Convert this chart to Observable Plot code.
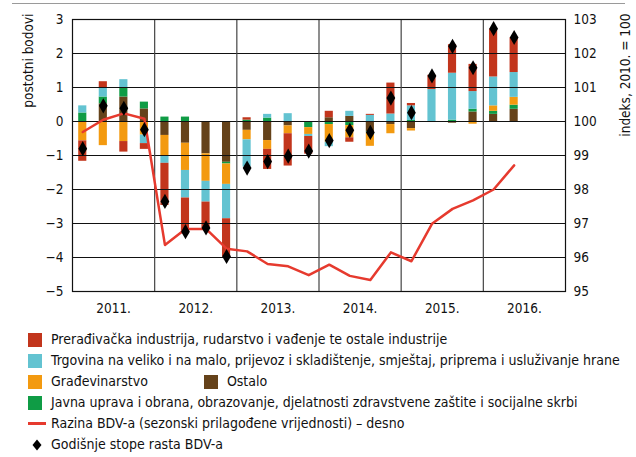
<!DOCTYPE html>
<html>
<head>
<meta charset="utf-8">
<script src="https://cdn.jsdelivr.net/npm/d3@7"></script>
<script src="https://cdn.jsdelivr.net/npm/@observablehq/plot@0.6"></script>
<style>
  html, body { margin: 0; padding: 0; background: #fff; }
  body { width: 636px; height: 457px; position: relative; overflow: hidden;
         font-family: "Liberation Sans Narrow", "DejaVu Sans Condensed", "Arial Narrow", sans-serif; }
  #rule { position: absolute; left: 12px; top: 3px; width: 613px; height: 0; border-top: 1.5px solid #9a9a9a; }
  #chart { position: absolute; left: 0; top: 0; }
  #legend { position: absolute; left: 28px; top: 329px; font-size: 14px; color: #111; line-height: 21px; }
  .row { display: flex; align-items: center; height: 21px; white-space: nowrap; }
  .sw { width: 14px; height: 14px; margin-right: 9px; flex: none; }
  .ln { width: 18px; height: 2.5px; background: #e63a2e; margin-right: 5px; flex: none; }
  .dm { width: 18px; margin-right: 5px; flex: none; display: flex; justify-content: center; }
</style>
</head>
<body>
<div id="rule"></div>
<div id="chart"></div>
<div id="legend"></div>
<script>
// Quarters 2011 Q1 – 2016 Q2
const quarters = ["2011Q1","2011Q2","2011Q3","2011Q4","2012Q1","2012Q2","2012Q3","2012Q4",
  "2013Q1","2013Q2","2013Q3","2013Q4","2014Q1","2014Q2","2014Q3","2014Q4",
  "2015Q1","2015Q2","2015Q3","2015Q4","2016Q1","2016Q2"];
const yearLabels = ["2011.","2012.","2013.","2014.","2015.","2016."];

// contributions (postotni bodovi), stacking order from zero outward
const ostalo        = [0, 0.52, 0.72, 0.37, -0.41, -0.64, -0.95, -1.20, -0.26, -0.56, -0.13, -0.03, 0.11, 0.15, -0.31, -0.09, -0.21, 0, -0.05, 0.28, 0.21, 0.36];
const javnaUprava   = [0.25, 0.20, 0.27, 0.20, 0.13, 0.13, 0, -0.05, 0.04, 0.10, 0, -0.15, -0.09, -0.12, -0.02, 0, 0.03, 0, 0.04, 0.08, 0.09, 0.12];
const gradjevinarstvo = [-0.57, -0.71, -0.59, -0.40, -0.62, -0.80, -0.81, -0.60, -0.28, -0.26, -0.23, -0.20, -0.52, -0.36, -0.40, -0.27, -0.07, -0.03, 0, -0.08, 0.16, 0.23];
const trgovina      = [0.21, 0.27, 0.24, -0.25, -0.20, -0.81, -0.61, -1.01, -0.80, 0.11, 0.23, -0.06, -0.13, 0.15, 0.18, 0.22, 0.43, 0.94, 1.38, 0.52, 0.85, 0.73];
const industrija    = [-0.60, 0.18, -0.31, -0.17, -1.24, -1.05, -0.79, -1.13, 0.07, -0.59, -0.95, -0.52, 0.19, -0.13, 0.03, 0.91, 0.07, 0.42, 0.84, 0.80, 1.41, 1.02];

// BDV level index (2010 = 100), right axis
const razinaBDV = [99.69, 100.05, 100.24, 100.08, 96.37, 96.84, 96.84, 96.26, 96.18, 95.81, 95.74, 95.48,
  95.79, 95.46, 95.34, 96.15, 95.89, 96.99, 97.43, 97.68, 98.0, 98.71];
// annual growth rates of BDV
const stopeRasta = [-0.80, 0.46, 0.39, -0.24, -2.35, -3.24, -3.13, -3.97, -1.37, -1.18, -1.02, -0.87,
  -0.56, -0.26, -0.32, 0.69, 0.26, 1.34, 2.21, 1.58, 2.73, 2.47];

const seriesNames = [
  "Prerađivačka industrija, rudarstvo i vađenje te ostale industrije",
  "Trgovina na veliko i na malo, prijevoz i skladištenje, smještaj, priprema i usluživanje hrane",
  "Građevinarstvo",
  "Ostalo",
  "Javna uprava i obrana, obrazovanje, djelatnosti zdravstvene zaštite i socijalne skrbi"
];
const seriesColors = ["#c2351c", "#63c3d1", "#f39a10", "#65421a", "#0f9c45"];
const stackOrder = [
  [seriesNames[3], ostalo],
  [seriesNames[4], javnaUprava],
  [seriesNames[2], gradjevinarstvo],
  [seriesNames[1], trgovina],
  [seriesNames[0], industrija]
];

const parseQ = s => ({year: +s.slice(0, 4), q: +s.slice(5)});
const bars = [];
quarters.forEach((s, i) => {
  const {year, q} = parseQ(s);
  for (const [name, arr] of stackOrder) bars.push({year, q, series: name, value: arr[i]});
});
const points = quarters.map((s, i) => {
  const {year, q} = parseQ(s);
  return {t: year + (q - 0.5) / 4, level: razinaBDV[i], growth: stopeRasta[i]};
});
const years = d3.range(2011, 2017);

const font = `"Liberation Sans Narrow", "DejaVu Sans Condensed", "Arial Narrow", sans-serif`;
const chart = Plot.plot({
  width: 636,
  height: 320,
  marginTop: 19,
  marginBottom: 29,
  marginLeft: 72,
  marginRight: 71,
  style: {fontFamily: font, fontSize: "13.5px", color: "#111", background: "transparent"},
  x: {domain: [2011, 2017], axis: null},
  y: {domain: [-5, 3], axis: null},
  color: {domain: seriesNames, range: seriesColors},
  marks: [
    Plot.rectY(bars, {
      x1: d => d.year + (d.q - 1) / 4,
      x2: d => d.year + d.q / 4,
      y: "value", fill: "series", insetLeft: 6.2, insetRight: 6.2
    }),
    Plot.ruleY(d3.range(-5, 4), {stroke: "#111", strokeWidth: 1}),
    Plot.ruleX(years.slice(1), {stroke: "#444", strokeWidth: 1.2}),
    Plot.frame({stroke: "#111", strokeWidth: 1.2}),
    Plot.line(points, {x: "t", y: d => d.level - 100, stroke: "#e63a2e", strokeWidth: 2.5}),
    Plot.dot(points, {x: "t", y: "growth", symbol: "diamond", r: 4.6, fill: "#000", stroke: "none"}),
    Plot.axisY({anchor: "left", ticks: d3.range(-5, 4), tickSize: 0, tickPadding: 9, label: null}),
    Plot.axisY({anchor: "right", ticks: d3.range(-5, 4), tickSize: 0, tickPadding: 8, label: null,
      tickFormat: d => String(d + 100)}),
    Plot.axisX({ticks: years.map(y => y + 0.5), tickSize: 0, tickPadding: 12, label: null,
      tickFormat: (d, i) => yearLabels[i]}),
    Plot.text(["postotni bodovi"], {frameAnchor: "top-left", dx: -49, dy: -6, rotate: -90,
      textAnchor: "end", fontSize: 13.5, fill: "#111"}),
    Plot.text(["indeks, 2010. = 100"], {frameAnchor: "top-right", dx: 55, dy: -6, rotate: -90,
      textAnchor: "end", fontSize: 13.5, fill: "#111"})
  ]
});
document.getElementById("chart").appendChild(chart);

// legend
const lg = document.getElementById("legend");
function swatchRow(items) {
  const row = document.createElement("div");
  row.className = "row";
  items.forEach(([name, color], k) => {
    const sw = document.createElement("span");
    sw.className = "sw"; sw.style.background = color;
    if (k > 0) sw.style.marginLeft = "56px";
    const tx = document.createElement("span"); tx.textContent = name;
    row.appendChild(sw); row.appendChild(tx);
  });
  lg.appendChild(row);
}
swatchRow([[seriesNames[0], seriesColors[0]]]);
swatchRow([[seriesNames[1], seriesColors[1]]]);
swatchRow([[seriesNames[2], seriesColors[2]], [seriesNames[3], seriesColors[3]]]);
swatchRow([[seriesNames[4], seriesColors[4]]]);
{
  const row = document.createElement("div"); row.className = "row";
  const l = document.createElement("span"); l.className = "ln";
  const tx = document.createElement("span"); tx.textContent = "Razina BDV-a (sezonski prilagođene vrijednosti) – desno";
  row.appendChild(l); row.appendChild(tx); lg.appendChild(row);
}
{
  const row = document.createElement("div"); row.className = "row";
  const d = document.createElement("span"); d.className = "dm";
  d.innerHTML = '<svg width="12" height="12" viewBox="-6 -6 12 12"><path d="M0,-5.5L4.5,0L0,5.5L-4.5,0Z" fill="#000"/></svg>';
  const tx = document.createElement("span"); tx.textContent = "Godišnje stope rasta BDV-a";
  row.appendChild(d); row.appendChild(tx); lg.appendChild(row);
}
</script>
</body>
</html>
